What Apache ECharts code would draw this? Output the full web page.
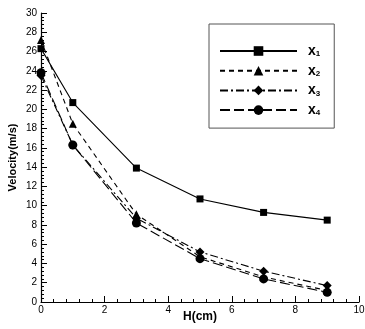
<!DOCTYPE html>
<html>
<head>
<meta charset="utf-8">
<script src="https://cdn.jsdelivr.net/npm/echarts@6/dist/echarts.min.js"></script>
<style>
  html, body { margin: 0; padding: 0; background: #fff; }
  #chart { width: 365px; height: 329px; }
</style>
</head>
<body>
<div id="chart"></div>
<script>
// H (cm)
const hValues = [0, 1, 3, 5, 7, 9];
// velocity (m/s)
const x1 = [26.3, 20.7, 13.9, 10.7, 9.3, 8.5];
const x2 = [27.2, 18.5, 9.1, 4.7, 2.6, 1.2];
const x3 = [23.5, 16.3, 8.7, 5.2, 3.2, 1.7];
const x4 = [23.8, 16.3, 8.2, 4.5, 2.4, 1.0];
const seriesNames = ['x1', 'x2', 'x3', 'x4'];

const font = 'Liberation Sans, Arial, sans-serif';
const chart = echarts.init(document.getElementById('chart'));

const pairs = (vals) => hValues.map((h, i) => [h, vals[i]]);

const mkSeries = (name, vals, symbol, size, dash) => ({
  name: name,
  type: 'line',
  data: pairs(vals),
  symbol: symbol,
  symbolSize: size,
  showAllSymbol: true,
  itemStyle: { color: '#000' },
  lineStyle: { color: '#000', width: 1.1, type: dash },
  emphasis: { disabled: true },
  z: 3,
});

const option = {
  animation: false,
  backgroundColor: '#fff',
  grid: { left: 41, right: 6, top: 13, bottom: 27, outerBoundsMode: 'none' },
  xAxis: {
    type: 'value',
    min: 0,
    max: 10,
    interval: 2,
    name: 'H(cm)',
    nameLocation: 'middle',
    nameGap: 9,
    nameMoveOverlap: false,
    nameTextStyle: { fontFamily: font, fontWeight: 'bold', fontSize: 12, color: '#000' },
    axisLine: { lineStyle: { color: '#000', width: 1.2 } },
    axisTick: { inside: true, length: 6, lineStyle: { color: '#000' } },
    minorTick: { show: true, splitNumber: 5, length: 3, lineStyle: { color: '#000' } },
    axisLabel: { fontFamily: font, fontSize: 10, color: '#000', margin: 3 },
    splitLine: { show: false },
  },
  yAxis: {
    type: 'value',
    min: 0,
    max: 30,
    interval: 2,
    name: 'Velocity(m/s)',
    nameLocation: 'middle',
    nameGap: 23,
    nameMoveOverlap: false,
    nameTextStyle: { fontFamily: font, fontWeight: 'bold', fontSize: 11, color: '#000' },
    axisLine: { show: true, lineStyle: { color: '#000', width: 1.2 } },
    axisTick: { inside: true, length: 6, lineStyle: { color: '#000' } },
    minorTick: { show: true, splitNumber: 5, length: 3, lineStyle: { color: '#000' } },
    axisLabel: { fontFamily: font, fontSize: 10, color: '#000', margin: 4 },
    splitLine: { show: false },
  },
  legend: {
    orient: 'vertical',
    left: 209,
    top: 24,
    padding: [20, 14, 11, 10],
    itemGap: 5.7,
    itemWidth: 77,
    itemHeight: 12,
    borderColor: '#555',
    borderWidth: 1,
    borderRadius: 0,
    data: seriesNames,
    formatter: (name) => '{b|x}{s|' + name.slice(1) + '}',
    textStyle: {
      padding: [0, 0, 0, 6],
      rich: {
        b: { fontFamily: font, fontWeight: 'bold', fontSize: 14, lineHeight: 14, color: '#000' },
        s: { fontFamily: font, fontWeight: 'bold', fontSize: 8, lineHeight: 14, color: '#000', padding: [6, 0, 0, 0] },
      },
    },
  },
  series: [
    mkSeries('x1', x1, 'rect', 7, 'solid'),
    mkSeries('x2', x2, 'triangle', 8, [5, 4]),
    mkSeries('x3', x3, 'diamond', 9, [8, 3, 2, 3]),
    mkSeries('x4', x4, 'circle', 9, [10, 4]),
  ],
};

chart.setOption(option);
</script>
</body>
</html>
